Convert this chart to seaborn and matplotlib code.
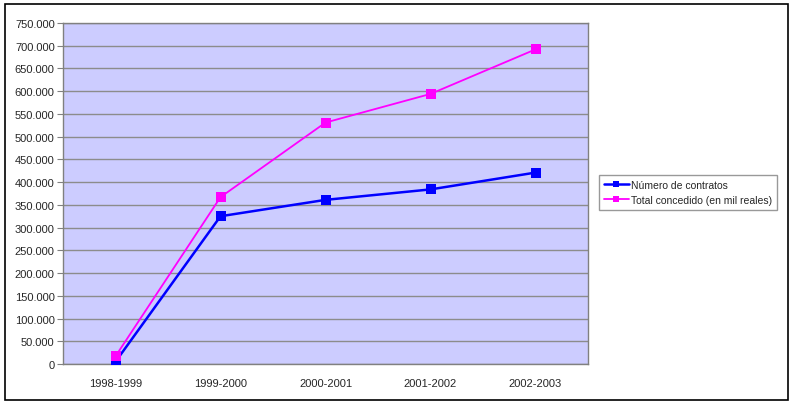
import pandas as pd
import seaborn as sns
import matplotlib.pyplot as plt
from matplotlib.patches import Rectangle
from matplotlib.ticker import FuncFormatter, FixedLocator

# === Data
periodos = ['1998-1999', '1999-2000', '2000-2001', '2001-2002', '2002-2003']
contratos = [5000, 325000, 361000, 384000, 421000]
concedido = [17000, 367000, 531000, 594000, 692000]

serie_a = 'Número de contratos'
serie_b = 'Total concedido (en mil reales)'

df = pd.DataFrame({
    'Periodo': periodos * 2,
    'Valor': contratos + concedido,
    'Serie': [serie_a] * len(periodos) + [serie_b] * len(periodos),
})
df['x'] = df['Periodo'].map({p: i for i, p in enumerate(periodos)})

sns.set_style("white")
plt.rcParams['font.family'] = ['Liberation Sans', 'DejaVu Sans']

fig = plt.figure(figsize=(7.93, 4.06), dpi=100)
ax = fig.add_axes([63 / 793, 41 / 406, 525 / 793, 341 / 406])
ax.set_facecolor('#CCCCFF')

# === Lines
sns.lineplot(data=df[df['Serie'] == serie_a], x='x', y='Valor', color='#0000FF',
             linewidth=1.8, marker='s', markersize=7, markeredgewidth=0,
             label=serie_a, ax=ax, zorder=3)
sns.lineplot(data=df[df['Serie'] == serie_b], x='x', y='Valor', color='#FF00FF',
             linewidth=1.3, marker='s', markersize=7, markeredgewidth=0,
             label=serie_b, ax=ax, zorder=4)

# === Axes
ax.set_xlim(-0.5, len(periodos) - 0.5)
ax.set_ylim(0, 750000)
ax.set_yticks(range(0, 750001, 50000))
ax.yaxis.set_major_formatter(FuncFormatter(lambda v, p: f"{int(v):,}".replace(',', '.')))
ax.set_xticks(range(len(periodos)))
ax.set_xticklabels(periodos)
ax.xaxis.set_minor_locator(FixedLocator([i - 0.5 for i in range(len(periodos) + 1)]))
ax.tick_params(axis='x', which='major', length=0, pad=10, labelsize=8)
ax.tick_params(axis='x', which='minor', length=4, color='#808080', direction='out')
ax.tick_params(axis='y', length=4, color='#808080', direction='out', labelsize=8, pad=2,
               left=True)
ax.set_xlabel('')
ax.set_ylabel('')
ax.grid(axis='y', color='#8C8C8C', linewidth=1)
ax.set_axisbelow(True)
for s in ax.spines.values():
    s.set_color('#808080')
    s.set_linewidth(1)

# === Legend
leg = ax.legend(loc='upper left', bbox_to_anchor=(599 / 793, 1 - 176 / 406),
                bbox_transform=fig.transFigure, frameon=True, fancybox=False,
                edgecolor='#808080', fontsize=7.5, handlelength=2.4, handletextpad=0.2,
                borderpad=0.45, labelspacing=0.5, markerscale=0.6, borderaxespad=0)
leg.get_frame().set_linewidth(1)

# === Outer chart border
fig.patches.append(Rectangle((5 / 793, 5 / 406), 783 / 793, 396 / 406,
                             transform=fig.transFigure, fill=False,
                             edgecolor='black', linewidth=1.2))

fig.savefig('out.png', dpi=100)
